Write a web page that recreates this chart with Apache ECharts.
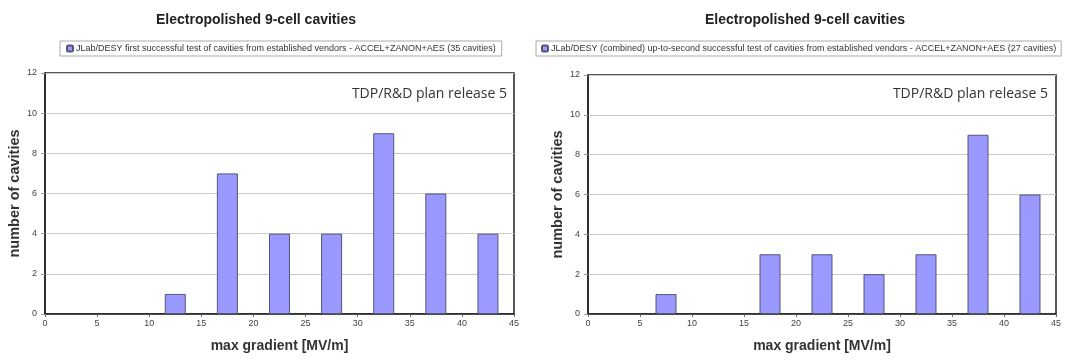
<!DOCTYPE html>
<html><head><meta charset="utf-8">
<script src="https://cdn.jsdelivr.net/npm/echarts@6/dist/echarts.min.js"></script>
<style>html,body{margin:0;padding:0;background:#fff}#c{width:1065px;height:361px}</style>
</head><body><div id="c"></div>
<script>
const binCenters = [2.5, 7.5, 12.5, 17.5, 22.5, 27.5, 32.5, 37.5, 42.5];
const firstTest = [0, 0, 1, 7, 4, 4, 9, 6, 4];
const upToSecond = [0, 1, 0, 3, 3, 2, 3, 9, 6];
const xTicks = [0, 5, 10, 15, 20, 25, 30, 35, 40, 45];
const yTicks = [0, 2, 4, 6, 8, 10, 12];
const titleText = 'Electropolished 9-cell cavities';
const legendLeft = 'JLab/DESY first successful test of cavities from established vendors - ACCEL+ZANON+AES (35 cavities)';
const legendRight = 'JLab/DESY (combined) up-to-second successful test of cavities from established vendors - ACCEL+ZANON+AES (27 cavities)';
const noteText = 'TDP/R&D plan release 5';
const xName = 'max gradient [MV/m]';
const yName = 'number of cavities';

const pairs = vals => binCenters.map((c, i) => [c, vals[i]]).filter(p => p[1] > 0);
const font = 'Arial, "Liberation Sans", sans-serif';

function xAxis(gi) {
  return {
    type: 'value', gridIndex: gi, min: xTicks[0], max: xTicks[xTicks.length - 1], interval: 5,
    name: xName, nameLocation: 'middle', nameGap: 25,
    nameTextStyle: {fontFamily: font, fontWeight: 'bold', fontSize: 14, color: '#333'},
    axisLine: {show: true, lineStyle: {color: '#222', width: 1.5}},
    axisTick: {show: true, length: 3, lineStyle: {color: '#666'}},
    axisLabel: {fontFamily: font, fontSize: 9, color: '#444', margin: 5},
    splitLine: {show: false}
  };
}
function yAxis(gi) {
  return {
    type: 'value', gridIndex: gi, min: yTicks[0], max: yTicks[yTicks.length - 1], interval: 2,
    name: yName, nameLocation: 'middle', nameGap: 23, nameRotate: 90,
    nameTextStyle: {fontFamily: font, fontWeight: 'bold', fontSize: 14.5, color: '#333'},
    axisLine: {show: true, lineStyle: {color: '#222', width: 1.5}},
    axisTick: {show: true, length: 4, lineStyle: {color: '#999'}},
    axisLabel: {fontFamily: font, fontSize: 9, color: '#444', margin: 8},
    splitLine: {show: true, lineStyle: {color: '#c8c8c8', width: 1}}
  };
}
const barStyle = {color: '#9999ff', borderColor: '#555577', borderWidth: 1};

const chart = echarts.init(document.getElementById('c'));
chart.setOption({
  animation: false,
  title: [
    {text: titleText, left: 251, top: 8, textAlign: 'center', textStyle: {fontFamily: font, fontSize: 14, fontWeight: 'bold', color: '#222'}},
    {text: titleText, left: 800, top: 8, textAlign: 'center', textStyle: {fontFamily: font, fontSize: 14, fontWeight: 'bold', color: '#222'}},
    {text: noteText, left: 502, top: 82, textAlign: 'right', textStyle: {fontFamily: '"Open Sans", Calibri, sans-serif', fontSize: 14, fontWeight: 'normal', color: '#333'}},
    {text: noteText, left: 1043, top: 82, textAlign: 'right', textStyle: {fontFamily: '"Open Sans", Calibri, sans-serif', fontSize: 14, fontWeight: 'normal', color: '#333'}}
  ],
  legend: [
    {data: [legendLeft], left: 60, top: 41, itemWidth: 6, itemHeight: 6, itemGap: 4,
     padding: [3, 6], borderColor: '#aaa', borderWidth: 1, borderRadius: 0,
     textStyle: {fontFamily: font, fontSize: 9, color: '#333', padding: [0, 0, 0, -2]}},
    {data: [legendRight], left: 536, top: 41, itemWidth: 6, itemHeight: 6, itemGap: 4,
     padding: [3, 5], borderColor: '#aaa', borderWidth: 1, borderRadius: 0,
     textStyle: {fontFamily: font, fontSize: 9, color: '#333', padding: [0, 0, 0, -2]}}
  ],
  grid: [
    {left: 45, right: 1065 - 514, top: 73, bottom: 47, show: true, borderColor: '#222', borderWidth: 1.5, backgroundColor: 'transparent'},
    {left: 588, right: 9, top: 75, bottom: 47, show: true, borderColor: '#222', borderWidth: 1.5, backgroundColor: 'transparent'}
  ],
  xAxis: [xAxis(0), xAxis(1)],
  yAxis: [yAxis(0), yAxis(1)],
  series: [
    {name: legendLeft, type: 'bar', xAxisIndex: 0, yAxisIndex: 0, data: pairs(firstTest), barWidth: 21, itemStyle: barStyle},
    {name: legendRight, type: 'bar', xAxisIndex: 1, yAxisIndex: 1, data: pairs(upToSecond), barWidth: 21, itemStyle: barStyle}
  ]
});
</script></body></html>
